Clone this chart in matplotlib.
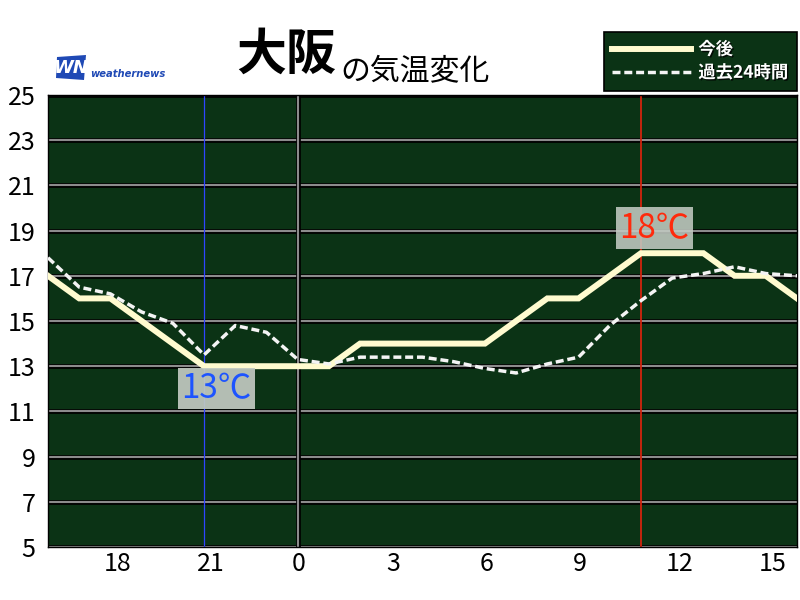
import matplotlib
matplotlib.use("Agg")
import matplotlib.pyplot as plt
import matplotlib.patheffects as pe
import matplotlib.transforms as mtransforms
from matplotlib.patches import Polygon

plt.rcParams['font.family'] = ['Noto Sans CJK JP', 'DejaVu Sans']

# ---- data ----
hours = [-8, -7, -6, -5, -4, -3, -2, -1, 0, 1, 2, 3, 4, 5, 6, 7, 8, 9, 10, 11, 12, 13, 14, 15, 16]
forecast = [17, 16, 16, 15, 14, 13, 13, 13, 13, 13, 14, 14, 14, 14, 14, 15, 16, 16, 17, 18, 18, 18, 17, 17, 16]
past24 = [17.8, 16.5, 16.2, 15.4, 14.9, 13.5, 14.8, 14.5, 13.3, 13.1, 13.4, 13.4, 13.4, 13.2, 12.9, 12.7,
          13.1, 13.4, 14.8, 15.9, 16.9, 17.1, 17.4, 17.1, 17.0]
xtick_pos = [-6, -3, 0, 3, 6, 9, 12, 15]
xtick_labels = ['18', '21', '0', '3', '6', '9', '12', '15']
ytick_vals = [5, 7, 9, 11, 13, 15, 17, 19, 21, 23, 25]
now_hour = 11
prev_evening = -3
midnight = 0
label_future = '今後'
label_past = '過去24時間'
city = '大阪'
subtitle = 'の気温変化'

# ---- figure ----
fig = plt.figure(figsize=(8, 6), dpi=100)
ax = fig.add_axes([48/800, 53/600, 749/800, 452/600])
bg = '#0b3315'
ax.set_facecolor(bg)
ax.set_xlim(hours[0], hours[-1])
ax.set_ylim(ytick_vals[0], ytick_vals[-1])

grid_fx = [pe.Stroke(linewidth=3.4, foreground='black'), pe.Normal()]
for yv in ytick_vals:
    ax.axhline(yv, color='#8c8c8c', lw=1.5, zorder=1, path_effects=grid_fx)
ax.axvline(midnight, color='#8c8c8c', lw=1.5, zorder=1, path_effects=grid_fx)
ax.axvline(prev_evening, color='#2f45ff', lw=0.9, zorder=1)
ax.axvline(now_hour, color='#d3240e', lw=1.3, zorder=1)

line_f, = ax.plot(hours, forecast, color='#fffbcf', lw=4.3, zorder=3,
                  solid_joinstyle='miter', label=label_future)
line_p, = ax.plot(hours, past24, color='#f4f4f4', lw=2.5, zorder=4,
                  dashes=(2.3, 1.1), label=label_past)

for s in ax.spines.values():
    s.set_color('black')
    s.set_linewidth(1.0)

ax.set_yticks(ytick_vals)
ax.set_yticklabels([str(v) for v in ytick_vals], fontsize=18)
ax.set_xticks(xtick_pos)
ax.set_xticklabels(xtick_labels, fontsize=18)
ax.tick_params(axis='both', length=0, colors='black')
ax.tick_params(axis='y', pad=9)
ax.tick_params(axis='x', pad=3)
for lab in ax.get_xticklabels():
    dx = 7 if len(lab.get_text()) > 1 else 1.5
    lab.set_transform(lab.get_transform() + mtransforms.ScaledTranslation(dx/100, 0, fig.dpi_scale_trans))

# min / max annotations
fmin = min(forecast)
fmax = max(forecast)
xmin = hours[forecast.index(fmin)]
xmax = hours[forecast.index(fmax)]
ax.annotate(f'{fmin}℃', xy=(xmin, fmin), xytext=(9, -16), textcoords='offset points',
            ha='center', va='center', fontsize=24, color='#1d54ff', zorder=6,
            bbox=dict(boxstyle='square,pad=0.1', facecolor='#c2cac2', edgecolor='none', alpha=0.92))
ax.annotate(f'{fmax}℃', xy=(xmax, fmax), xytext=(9.5, 18), textcoords='offset points',
            ha='center', va='center', fontsize=24, color='#ff2a0c', zorder=6,
            bbox=dict(boxstyle='square,pad=0.1', facecolor='#c2cac2', edgecolor='none', alpha=0.88))

# legend
leg = ax.legend(handles=[line_f, line_p], loc='upper right',
                bbox_to_anchor=(797/800, 1 - 32/600), bbox_transform=fig.transFigure,
                frameon=True, facecolor=bg, edgecolor='black', framealpha=1, fancybox=False,
                prop={'size': 12.5, 'weight': 'bold'}, labelcolor='white',
                handlelength=4.5, handletextpad=0.45, borderpad=0.5, labelspacing=0.3,
                borderaxespad=0)
leg.get_frame().set_linewidth(1.2)
for t in leg.get_texts():
    t.set_path_effects([pe.withSimplePatchShadow(offset=(1, -1), shadow_rgbFace='black', alpha=0.8)])

# title
fig.text(236/800, 1 - 70/600, city, fontsize=36, weight='bold', color='black', va='baseline', ha='left')
fig.text(340/800, 1 - 79/600, subtitle, fontsize=21.5, color='black', va='baseline', ha='left')

# logo
logo = Polygon([(57/800, 1-57/600), (86/800, 1-55/600), (84/800, 1-80/600), (56/800, 1-78/600)],
               closed=True, transform=fig.transFigure, facecolor='#1f49b5', edgecolor='none')
fig.patches.append(logo)
fig.text(70.5/800, 1-68/600, 'WN', fontsize=13, weight='bold', style='italic', color='white',
         ha='center', va='center', family='DejaVu Sans')
fig.text(90/800, 1-74/600, 'weathernews', fontsize=7.2, weight='bold', style='italic', color='#1f49b5',
         ha='left', va='center', family='DejaVu Sans')

fig.savefig('out.png', dpi=100, facecolor='white')
